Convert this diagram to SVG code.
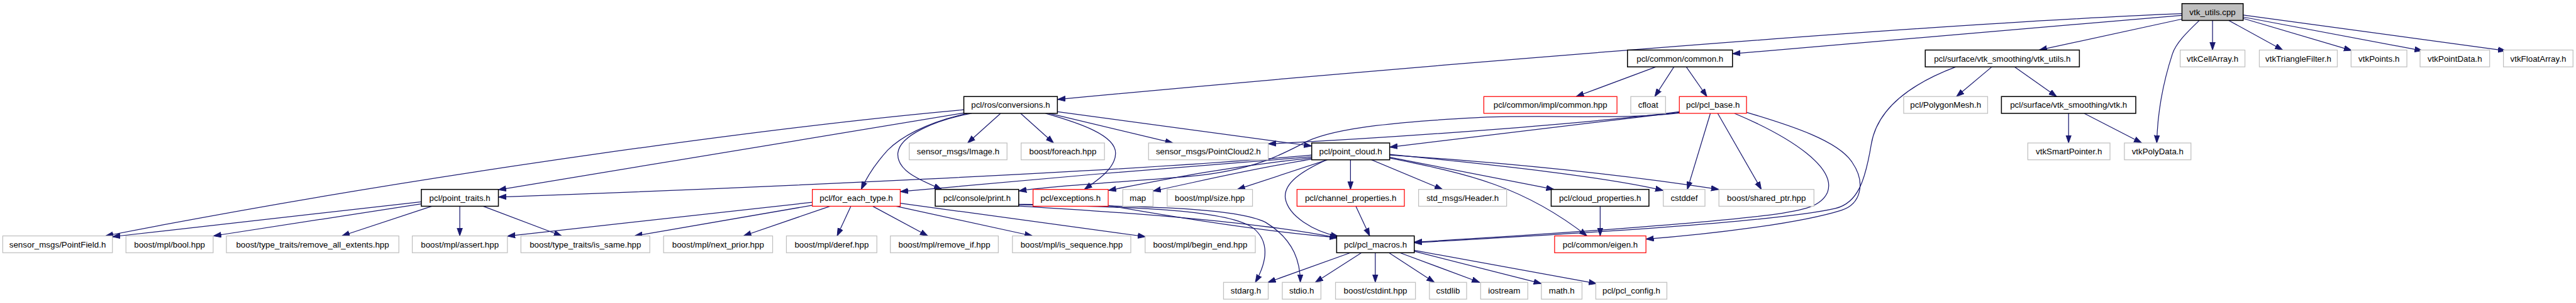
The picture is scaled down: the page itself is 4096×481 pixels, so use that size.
<svg xmlns="http://www.w3.org/2000/svg" width="4096" height="481" viewBox="0 0 4096 481">
<style>
.n rect{fill:#fff;stroke:#bfbfbf;stroke-width:1.3}
.n.b rect{stroke:#000;stroke-width:1.6}
.n.r rect{stroke:#f00}
.n.root rect{fill:#bfbfbf;stroke:#000;stroke-width:1.6}
text{font-family:"Liberation Sans",Arial,sans-serif;font-size:14px;text-anchor:middle;fill:#000}
#edges path{fill:none;stroke:#191970;stroke-width:1.3;marker-end:url(#a)}
</style>
<defs>
<marker id="a" markerUnits="userSpaceOnUse" markerWidth="16" markerHeight="12" refX="13" refY="5" orient="auto"><path d="M0,0.5 L13,5 L0,9.5 z" fill="#191970" stroke="#191970" stroke-width="1"/></marker>
</defs>
<rect width="4096" height="481" fill="#fff"/>
<g transform="scale(0.95367)">
<g id="edges">
<path d="M3689,34 L3689,83.3"/>
<path d="M3716,34 L3806,83.3"/>
<path d="M3740,30.7 L3921,84"/>
<path d="M3740,28.3 L4039,84.5"/>
<path d="M3740,25 L4178,84.5"/>
<path d="M3667,34 C3645,55 3628,72 3622,90 C3604,145 3597,195 3596,238"/>
<path d="M3638,31.7 L3400,83.3"/>
<path d="M3638,25.5 L2888.6,89.5"/>
<path d="M3638,22.7 C3200,40 2300,115 1763.3,165.5"/>
<path d="M2761,111.3 L2628,160.7"/>
<path d="M2791,111.3 L2759,160.7"/>
<path d="M2811.5,111.3 L2846,160.7"/>
<path d="M3321,111.3 L3262,160.7"/>
<path d="M3359,111.3 L3429,160.7"/>
<path d="M3261,111.3 C3185,140 3130,180 3120,240 C3110,300 3098,338 3060,347 C2950,372 2550,393 2358,404"/>
<path d="M3449,188.7 L3449,238"/>
<path d="M3475,188.7 L3571,238"/>
<path d="M2851.7,188.7 L2813.3,315.3"/>
<path d="M2864,188.7 L2936.7,315.3"/>
<path d="M2800,187 L2317,245"/>
<path d="M2800,186 C2650,205 2350,228 2114.5,239.5"/>
<path d="M2800,188 C2700,200 2560,190 2460,196 C2340,202 2230,212 2180,235 C2140,255 2100,280 2000,292 C1900,302 1760,308 1698.5,318"/>
<path d="M2892,188.7 C2990,230 3062,280 3047,320 C3037,343 3010,350 2950,358 C2800,376 2500,395 2358,403"/>
<path d="M2912,187 C2990,210 3065,235 3088,270 C3112,305 3102,340 3070,350 C3000,372 2850,390 2744.3,398"/>
<path d="M1668.3,188.7 L1613.3,238"/>
<path d="M1701.7,188.7 L1756.7,238"/>
<path d="M1749,188.7 L1955.6,238"/>
<path d="M1763.3,186 L2187,243"/>
<path d="M1743,188.7 C1800,205 1860,225 1860,255 C1860,280 1830,300 1808,315.3"/>
<path d="M1620,188.7 C1560,200 1500,225 1497,255 C1495,285 1535,300 1570,315.3"/>
<path d="M1613,188.7 C1540,205 1500,230 1480,250 C1460,272 1445,295 1436,315.3"/>
<path d="M1607,188 L831,316"/>
<path d="M1607,182.7 C1300,210 700,290 176,392.7"/>
<path d="M702.5,336 L187.4,394"/>
<path d="M702.5,339.3 L356,392.7"/>
<path d="M720,343.3 L570,392.7"/>
<path d="M766.6,343.3 L766.6,392.7"/>
<path d="M805.6,343.3 L936.5,392.7"/>
<path d="M1354.4,336.7 L846,393"/>
<path d="M1354.4,341.7 L1058,392.7"/>
<path d="M1384,343.3 L1239.6,392.7"/>
<path d="M1418.6,343.3 L1395.7,392.7"/>
<path d="M1455,343.3 L1547,392.7"/>
<path d="M1494,343.3 L1721.4,392.7"/>
<path d="M1501,338.3 L1910,394"/>
<path d="M1698.5,341 C1900,344 2050,350 2090,380 C2120,405 2110,440 2093,470"/>
<path d="M1698.5,340 C1900,343 2060,345 2110,370 C2160,400 2168,440 2168,470"/>
<path d="M1698.5,343 C1900,355 2100,370 2230,396"/>
<path d="M1847.7,342 C1950,360 2100,385 2230,395.5"/>
<path d="M2187,258 C1900,285 1200,315 831,328"/>
<path d="M2187,261 C2000,275 1700,300 1501,319"/>
<path d="M2187,263 C2050,277 1950,297 1848,317"/>
<path d="M2187,265 C2080,282 2000,302 1922.5,318"/>
<path d="M2213,266 L2063,315.3"/>
<path d="M2251.7,266 L2251.7,315.3"/>
<path d="M2286.7,266 L2405,315.3"/>
<path d="M2317,261.7 L2591,315.3"/>
<path d="M2317,257 C2500,275 2680,295 2773,317"/>
<path d="M2317,258 C2500,270 2700,290 2866,315.3"/>
<path d="M2317,263 C2450,290 2540,310 2646,392.7"/>
<path d="M2212,266 C2170,285 2140,305 2143,330 C2148,360 2190,385 2232,394"/>
<path d="M2260.7,343.3 L2283.7,392.7"/>
<path d="M2668,343.3 L2668,392.7"/>
<path d="M2251.5,420.7 L2114,470"/>
<path d="M2270,420.7 L2193,470"/>
<path d="M2293,420.7 L2293,470"/>
<path d="M2315.8,420.7 L2391.6,470"/>
<path d="M2334,420.7 L2467,470"/>
<path d="M2358,418.3 L2570,472"/>
<path d="M2358,416.7 L2662,472"/>
</g>
<g id="n0" class="n root"><rect x="3638" y="6" width="102" height="28"/><text x="3689" y="25">vtk_utils.cpp</text></g>
<g id="n1" class="n b"><rect x="1607" y="160.7" width="156" height="28"/><text x="1685" y="179.7">pcl/ros/conversions.h</text></g>
<g id="n2" class="n b"><rect x="2713.5" y="83.3" width="175.1" height="28"/><text x="2801" y="102.3">pcl/common/common.h</text></g>
<g id="n3" class="n b"><rect x="3210" y="83.3" width="257" height="28"/><text x="3338.5" y="102.3">pcl/surface/vtk_smoothing/vtk_utils.h</text></g>
<g id="n4" class="n"><rect x="3635" y="83.3" width="108" height="28"/><text x="3689" y="102.3">vtkCellArray.h</text></g>
<g id="n5" class="n"><rect x="3767" y="83.3" width="130" height="28"/><text x="3832" y="102.3">vtkTriangleFilter.h</text></g>
<g id="n6" class="n"><rect x="3920" y="83.3" width="93" height="28"/><text x="3966.5" y="102.3">vtkPoints.h</text></g>
<g id="n7" class="n"><rect x="4035" y="83.3" width="116" height="28"/><text x="4093" y="102.3">vtkPointData.h</text></g>
<g id="n8" class="n"><rect x="4174" y="83.3" width="116" height="28"/><text x="4232" y="102.3">vtkFloatArray.h</text></g>
<g id="n9" class="n r"><rect x="2474" y="160.7" width="222" height="28"/><text x="2585" y="179.7">pcl/common/impl/common.hpp</text></g>
<g id="n10" class="n"><rect x="2719" y="160.7" width="58" height="28"/><text x="2748" y="179.7">cfloat</text></g>
<g id="n11" class="n r"><rect x="2800" y="160.7" width="112" height="28"/><text x="2856" y="179.7">pcl/pcl_base.h</text></g>
<g id="n12" class="n"><rect x="3174" y="160.7" width="140" height="28"/><text x="3244" y="179.7">pcl/PolygonMesh.h</text></g>
<g id="n13" class="n b"><rect x="3337" y="160.7" width="224" height="28"/><text x="3449" y="179.7">pcl/surface/vtk_smoothing/vtk.h</text></g>
<g id="n14" class="n"><rect x="1516" y="238" width="163" height="28"/><text x="1597.5" y="257">sensor_msgs/Image.h</text></g>
<g id="n15" class="n"><rect x="1702.5" y="238" width="139" height="28"/><text x="1772" y="257">boost/foreach.hpp</text></g>
<g id="n16" class="n"><rect x="1915" y="238" width="199.5" height="28"/><text x="2014.7" y="257">sensor_msgs/PointCloud2.h</text></g>
<g id="n17" class="n b"><rect x="2187" y="238" width="130" height="28"/><text x="2252" y="257">pcl/point_cloud.h</text></g>
<g id="n18" class="n"><rect x="3381" y="238" width="137" height="28"/><text x="3449.5" y="257">vtkSmartPointer.h</text></g>
<g id="n19" class="n"><rect x="3542" y="238" width="111" height="28"/><text x="3597.5" y="257">vtkPolyData.h</text></g>
<g id="n20" class="n b"><rect x="702.5" y="315.3" width="128.5" height="28"/><text x="766.7" y="334.3">pcl/point_traits.h</text></g>
<g id="n21" class="n r"><rect x="1354.4" y="315.3" width="146.6" height="28"/><text x="1427.7" y="334.3">pcl/for_each_type.h</text></g>
<g id="n22" class="n b"><rect x="1559.3" y="315.3" width="139.2" height="28"/><text x="1628.9" y="334.3">pcl/console/print.h</text></g>
<g id="n23" class="n r"><rect x="1722.4" y="315.3" width="125.3" height="28"/><text x="1785" y="334.3">pcl/exceptions.h</text></g>
<g id="n24" class="n"><rect x="1872" y="315.3" width="50.5" height="28"/><text x="1897.2" y="334.3">map</text></g>
<g id="n25" class="n"><rect x="1946" y="315.3" width="142.3" height="28"/><text x="2017.1" y="334.3">boost/mpl/size.hpp</text></g>
<g id="n26" class="n r"><rect x="2162.5" y="315.3" width="179" height="28"/><text x="2252" y="334.3">pcl/channel_properties.h</text></g>
<g id="n27" class="n"><rect x="2365.2" y="315.3" width="146.8" height="28"/><text x="2438.6" y="334.3">std_msgs/Header.h</text></g>
<g id="n28" class="n b"><rect x="2586.3" y="315.3" width="163" height="28"/><text x="2667.8" y="334.3">pcl/cloud_properties.h</text></g>
<g id="n29" class="n"><rect x="2773.2" y="315.3" width="69.5" height="28"/><text x="2808" y="334.3">cstddef</text></g>
<g id="n30" class="n"><rect x="2866" y="315.3" width="158.4" height="28"/><text x="2945.2" y="334.3">boost/shared_ptr.hpp</text></g>
<g id="n31" class="n"><rect x="4.6" y="392.7" width="182.8" height="28"/><text x="96" y="411.7">sensor_msgs/PointField.h</text></g>
<g id="n32" class="n"><rect x="210" y="392.7" width="145.4" height="28"/><text x="282.7" y="411.7">boost/mpl/bool.hpp</text></g>
<g id="n33" class="n"><rect x="377.5" y="392.7" width="287.5" height="28"/><text x="521.2" y="411.7">boost/type_traits/remove_all_extents.hpp</text></g>
<g id="n34" class="n"><rect x="687.4" y="392.7" width="158.6" height="28"/><text x="766.7" y="411.7">boost/mpl/assert.hpp</text></g>
<g id="n35" class="n"><rect x="868.5" y="392.7" width="214.9" height="28"/><text x="976" y="411.7">boost/type_traits/is_same.hpp</text></g>
<g id="n36" class="n"><rect x="1106.4" y="392.7" width="181.8" height="28"/><text x="1197.3" y="411.7">boost/mpl/next_prior.hpp</text></g>
<g id="n37" class="n"><rect x="1311.2" y="392.7" width="150.8" height="28"/><text x="1386.6" y="411.7">boost/mpl/deref.hpp</text></g>
<g id="n38" class="n"><rect x="1484.5" y="392.7" width="180" height="28"/><text x="1574.5" y="411.7">boost/mpl/remove_if.hpp</text></g>
<g id="n39" class="n"><rect x="1688" y="392.7" width="197.4" height="28"/><text x="1786.7" y="411.7">boost/mpl/is_sequence.hpp</text></g>
<g id="n40" class="n"><rect x="1909.3" y="392.7" width="183.7" height="28"/><text x="2001.1" y="411.7">boost/mpl/begin_end.hpp</text></g>
<g id="n41" class="n b"><rect x="2228.6" y="392.7" width="129.4" height="28"/><text x="2293.3" y="411.7">pcl/pcl_macros.h</text></g>
<g id="n42" class="n r"><rect x="2592" y="392.7" width="152.3" height="28"/><text x="2668.1" y="411.7">pcl/common/eigen.h</text></g>
<g id="n43" class="n"><rect x="2040" y="470" width="74.5" height="28"/><text x="2077.2" y="489">stdarg.h</text></g>
<g id="n44" class="n"><rect x="2138" y="470" width="64.4" height="28"/><text x="2170.2" y="489">stdio.h</text></g>
<g id="n45" class="n"><rect x="2226.7" y="470" width="133.3" height="28"/><text x="2293.3" y="489">boost/cstdint.hpp</text></g>
<g id="n46" class="n"><rect x="2383.3" y="470" width="62" height="28"/><text x="2414.3" y="489">cstdlib</text></g>
<g id="n47" class="n"><rect x="2468.7" y="470" width="78.6" height="28"/><text x="2508" y="489">iostream</text></g>
<g id="n48" class="n"><rect x="2570" y="470" width="67.7" height="28"/><text x="2603.8" y="489">math.h</text></g>
<g id="n49" class="n"><rect x="2660.7" y="470" width="118.5" height="28"/><text x="2720" y="489">pcl/pcl_config.h</text></g>
</g>
</svg>
